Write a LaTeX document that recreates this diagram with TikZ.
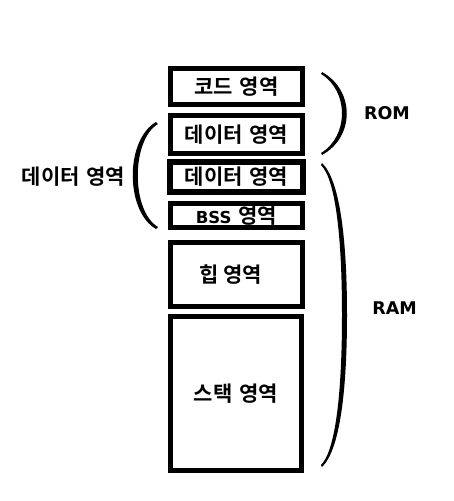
\documentclass[tikz,border=0pt]{standalone}
\usepackage{fontspec}
\newfontfamily\krb{Noto Sans CJK KR Bold}
\newfontfamily\latb{DejaVu Sans Bold}
\newcommand{\krsize}{\fontsize{21}{25}\selectfont}
\newcommand{\latsize}{\fontsize{17.5}{20}\selectfont}
\newcommand{\bsssize}{\fontsize{16.5}{19}\selectfont}
\newcommand{\gap}{\hspace{7pt}}
\begin{document}
\begin{tikzpicture}[x=1pt,y=-1pt,
  mem/.style={draw, line width=5pt, inner sep=0pt, minimum width=132pt, font=\krb\krsize},
  lbl/.style={inner sep=0pt, font=\krb\krsize},
  latlbl/.style={inner sep=0pt, font=\latb\latsize},
  brace/.style={fill=black}]
\path[use as bounding box, fill=white] (0,0) rectangle (453,501);

\node[mem, minimum height=36pt] (code) at (236.5,86.5) {\raisebox{-2pt}{코드\gap 영역}};
\node[mem, minimum height=38pt] (data1) at (236.5,134.5) {데이터\gap 영역};
\node[mem, line width=6pt, minimum width=133pt, minimum height=30pt] (data2) at (236.5,177) {데이터\gap 영역};
\node[mem, minimum height=24pt] (bss) at (236.5,215.5) {{\latb\bsssize BSS}\gap 영역};
\node[mem, minimum height=64pt] (heap) at (236.5,274.5) {\hspace*{-12pt}힙\hspace{5pt}영역};
\node[mem, minimum width=131pt, minimum height=154pt] (stack) at (236,393.5) {\raisebox{-7pt}{스택\gap 영역}};

\node[lbl] (dataL) at (73.5,177) {데이터\gap 영역};
\node[latlbl] (rom) at (387,113) {ROM};
\node[latlbl] (ram) at (394.5,308) {RAM};

% left parenthesis
\fill[brace] (156,122) .. controls (125,140) and (125,211) .. (156,229)
  -- (158,227) .. controls (131,211) and (131,140) .. (158,124) -- cycle;
% ROM brace
\fill[brace] (322,72) .. controls (355,90) and (355,137) .. (322,155)
  -- (321,153) .. controls (349,136) and (349,91) .. (321,74) -- cycle;
% RAM brace
\fill[brace] (322,163) .. controls (340,180) and (347,240) .. (347,315)
  .. controls (347,390) and (340,450) .. (322,467)
  -- (321,465) .. controls (336,450) and (342,390) .. (342,315)
  .. controls (342,240) and (336,180) .. (321,165) -- cycle;
\end{tikzpicture}
\end{document}
